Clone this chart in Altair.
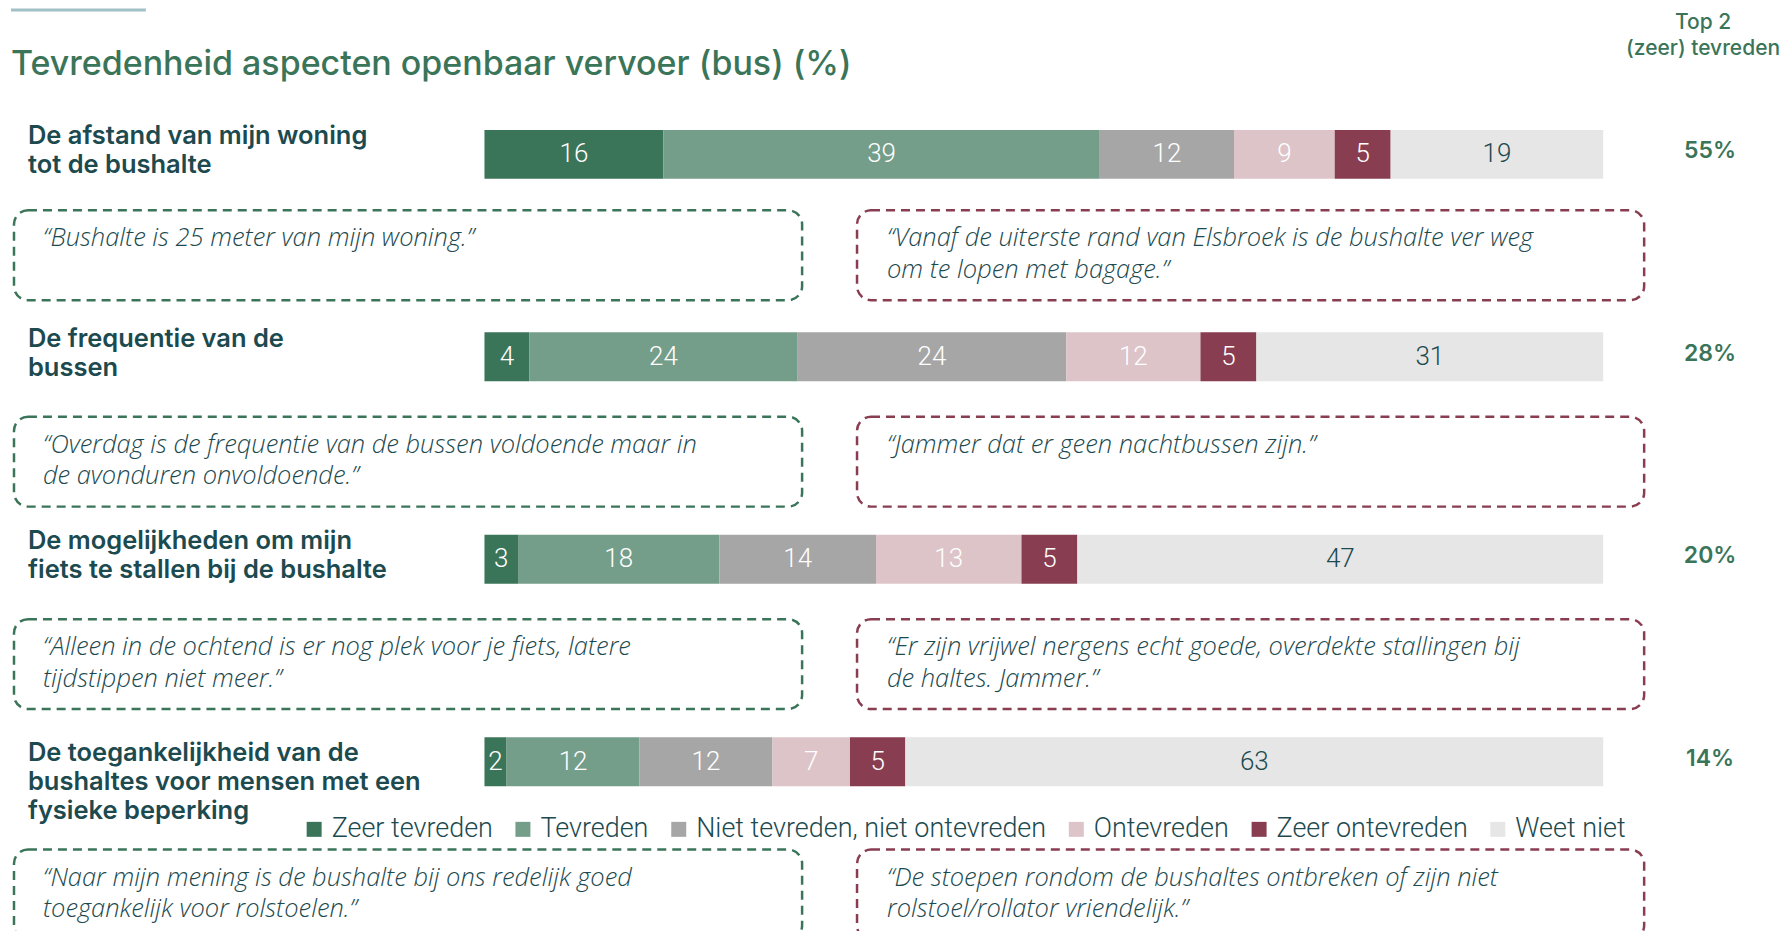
import altair as alt
import pandas as pd

# ---------------- data ----------------
items = [
    "De afstand van mijn woning\ntot de bushalte",
    "De frequentie van de\nbussen",
    "De mogelijkheden om mijn\nfiets te stallen bij de bushalte",
    "De toegankelijkheid van de\nbushaltes voor mensen met een\nfysieke beperking",
]
categories = [
    "Zeer tevreden",
    "Tevreden",
    "Niet tevreden, niet ontevreden",
    "Ontevreden",
    "Zeer ontevreden",
    "Weet niet",
]
colors = ["#3b7559", "#749e8a", "#a6a6a6", "#dcc4c9", "#893d50", "#e6e6e6"]

zeer_tevreden = [16, 4, 3, 2]
tevreden = [39, 24, 18, 12]
neutraal = [12, 24, 14, 12]
ontevreden = [9, 12, 13, 7]
zeer_ontevreden = [5, 5, 5, 5]
weet_niet = [19, 31, 47, 63]
series = [zeer_tevreden, tevreden, neutraal, ontevreden, zeer_ontevreden, weet_niet]

top2 = ["55%", "28%", "20%", "14%"]

quotes_pos = [
    "\u201cBushalte is 25 meter van mijn woning.\u201d",
    "\u201cOverdag is de frequentie van de bussen voldoende maar in\nde avonduren onvoldoende.\u201d",
    "\u201cAlleen in de ochtend is er nog plek voor je fiets, latere\ntijdstippen niet meer.\u201d",
    "\u201cNaar mijn mening is de bushalte bij ons redelijk goed\ntoegankelijk voor rolstoelen.\u201d",
]
quotes_neg = [
    "\u201cVanaf de uiterste rand van Elsbroek is de bushalte ver weg\nom te lopen met bagage.\u201d",
    "\u201cJammer dat er geen nachtbussen zijn.\u201d",
    "\u201cEr zijn vrijwel nergens echt goede, overdekte stallingen bij\nde haltes. Jammer.\u201d",
    "\u201cDe stoepen rondom de bushaltes ontbreken of zijn niet\nrolstoel/rollator vriendelijk.\u201d",
]

title_text = "Tevredenheid aspecten openbaar vervoer (bus) (%)"
header_text = "Top 2\n(zeer) tevreden"

# ---------------- tables ----------------
long_rows = []
for i, item in enumerate(items):
    for j, cat in enumerate(categories):
        long_rows.append({"item": item, "category": cat, "order": j, "value": series[j][i]})
df_bars = pd.DataFrame(long_rows)

df_rows = pd.DataFrame({
    "item": items,
    "idx": list(range(len(items))),
    "top2": top2,
    "pos": quotes_pos,
    "neg": quotes_neg,
})

# ---------------- style ----------------
GREEN = "#3b7559"
RED = "#893d50"
TEAL = "#1c4a4f"
HEAD_FONT = "Inter"
LIGHT_FONT = "Roboto"
QUOTE_FONT = "Open Sans"

xscale = alt.Scale(domain=[0, 1], range=[477, 1597])
yscale = alt.Scale(type="point", domain=items, range=[146, 754], padding=0)
Y = alt.Y("item:N", scale=yscale, axis=None)

# ---------------- layers ----------------
stacked = (
    alt.Chart(df_bars)
    .transform_stack(
        stack="value",
        groupby=["item"],
        as_=["start", "end"],
        sort=[alt.SortField("order", order="ascending")],
        offset="normalize",
    )
    .transform_calculate(mid="(datum.start + datum.end) / 2")
)

bars = stacked.mark_bar(size=49).encode(
    x=alt.X("start:Q", scale=xscale, axis=None),
    x2="end:Q",
    y=Y,
    color=alt.Color(
        "category:N",
        scale=alt.Scale(domain=categories, range=colors),
        legend=alt.Legend(
            orient="none",
            legendX=293,
            legendY=808,
            direction="horizontal",
            title=None,
            symbolType="square",
            symbolSize=225,
            symbolStrokeWidth=0,
            symbolOpacity=1,
            labelFont=LIGHT_FONT,
            labelFontWeight=300,
            labelFontSize=27,
            labelColor=TEAL,
            labelOffset=4,
            columnPadding=16,
            labelLimit=600,
        ),
    ),
)

bar_text = stacked.mark_text(
    font=LIGHT_FONT, fontWeight=300, fontSize=26, baseline="middle"
).encode(
    x=alt.X("mid:Q", scale=xscale, axis=None),
    y=Y,
    text="value:Q",
    color=alt.condition(alt.datum.category == "Weet niet", alt.value(TEAL), alt.value("white")),
)

rows = alt.Chart(df_rows)

def row_labels(flt, yoff):
    return rows.transform_filter(flt).mark_text(
        align="left", baseline="top", lineBreak="\n", lineHeight=29,
        font=HEAD_FONT, fontWeight=600, fontSize=25.5, color=TEAL, yOffset=yoff,
    ).encode(x=alt.value(20), y=Y, text="item:N")

pct = rows.mark_text(
    align="center", baseline="middle", font=HEAD_FONT, fontWeight=600,
    fontSize=23, color=GREEN, yOffset=-3,
).encode(x=alt.value(1704), y=Y, text="top2:N")

def box(flt, top, x0, x1, col):
    return rows.transform_filter(flt).mark_rect(
        cornerRadius=14, fill="white", fillOpacity=0, stroke=col, strokeWidth=2.5,
        strokeDash=[9, 6], yOffset=top, y2Offset=top + 90,
    ).encode(x=alt.value(x0), x2=alt.value(x1), y=Y, y2="item")

def quote(flt, top, x0, field):
    return rows.transform_filter(flt).mark_text(
        align="left", baseline="top", lineBreak="\n", lineHeight=31.5,
        font=QUOTE_FONT, fontWeight=300, fontStyle="italic", fontSize=25.5,
        color=TEAL, yOffset=top + 16,
    ).encode(x=alt.value(x0), y=Y, text=f"{field}:N")

first = "datum.idx == 0"
mid = "datum.idx == 1 || datum.idx == 2"
last = "datum.idx == 3"

layers = [
    bars,
    bar_text,
    row_labels("datum.idx < 3", -30),
    row_labels(last, -21),
    pct,
]
for flt, top in [(first, 56), (mid, 60), (last, 88)]:
    layers += [
        box(flt, top, 6, 795, GREEN),
        box(flt, top, 850, 1638, RED),
        quote(flt, top, 35, "pos"),
        quote(flt, top, 880, "neg"),
    ]

single = alt.Chart(pd.DataFrame({"t": [title_text], "h": [header_text]}))
title = single.mark_text(
    align="left", baseline="alphabetic", font=HEAD_FONT, fontWeight=500,
    fontSize=34, color=GREEN,
).encode(x=alt.value(3), y=alt.value(67), text="t:N")
header = single.mark_text(
    align="center", baseline="top", lineBreak="\n", lineHeight=26,
    font=HEAD_FONT, fontWeight=500, fontSize=21, color=GREEN,
).encode(x=alt.value(1697), y=alt.value(4), text="h:N")
accent = single.mark_rect(color="#9fc0c6").encode(
    x=alt.value(3), x2=alt.value(138), y=alt.value(0), y2=alt.value(3)
)

chart = (
    alt.layer(*layers, title, header, accent)
    .properties(
        width=1776,
        height=923,
        autosize=alt.AutoSizeParams(type="none"),
        padding=0,
        background="white",
    )
    .configure_view(strokeWidth=0)
)

chart.save("out.html", embed_options={"renderer": "svg", "actions": False})
